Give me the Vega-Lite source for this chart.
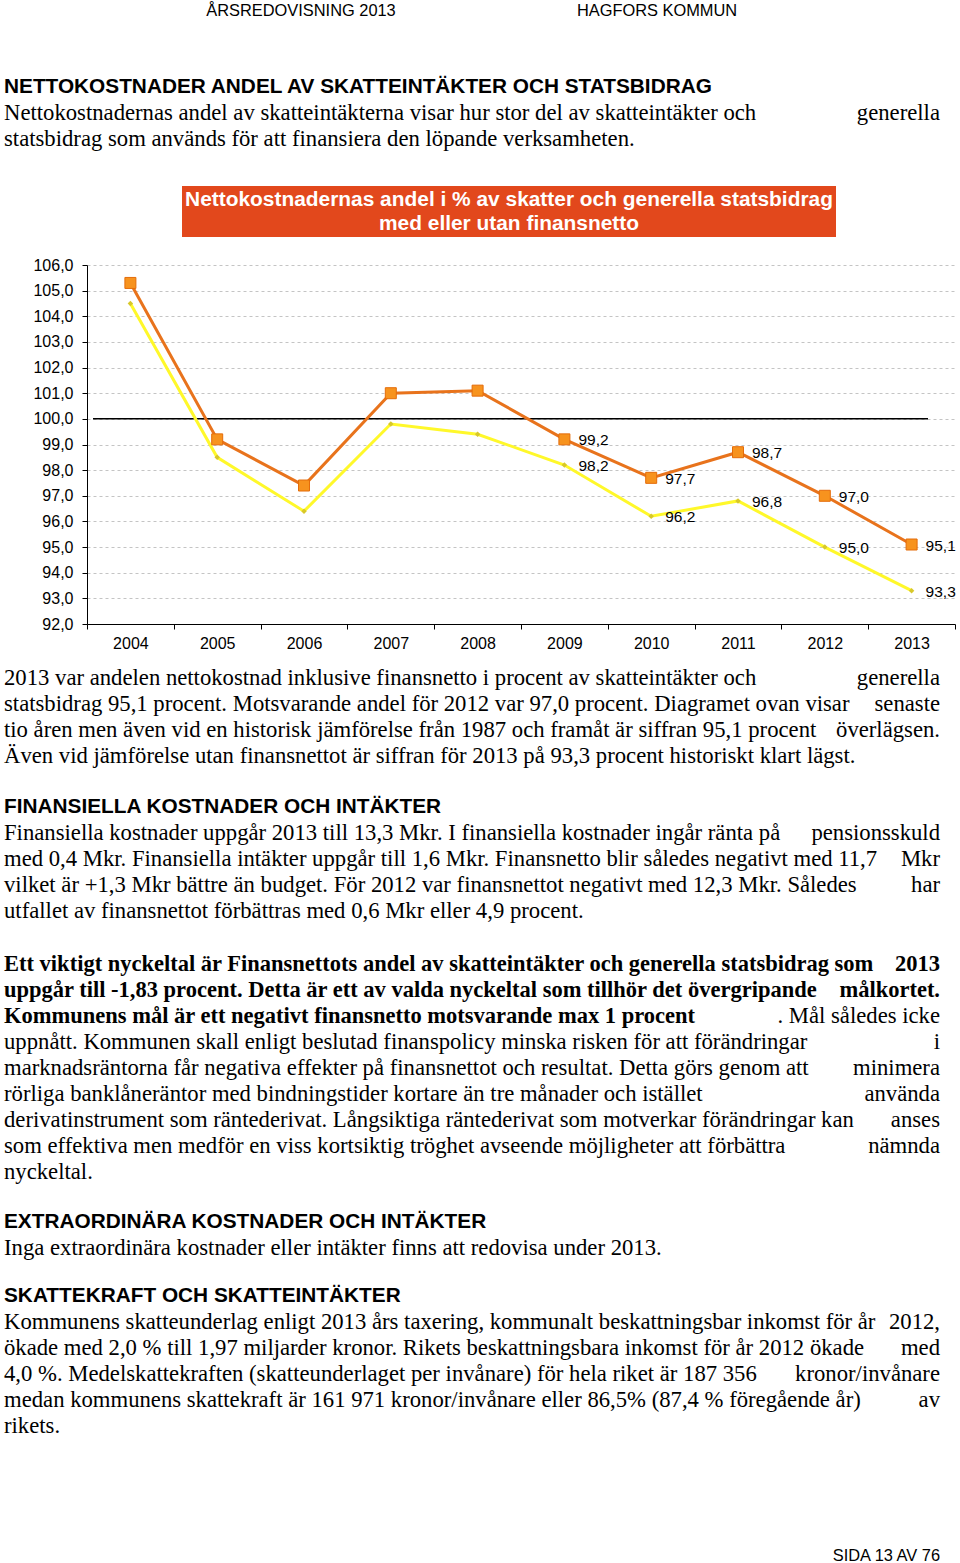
{
  "$schema": "https://vega.github.io/schema/vega-lite/v6.json",
  "padding": 0,
  "spacing": 0,
  "background": "white",
  "config": {
    "view": {"stroke": null},
    "locale": {"number": {"decimal": ",", "thousands": " ", "grouping": [3], "currency": ["", " kr"]}}
  },
  "vconcat": [
    {
      "width": 960,
      "height": 257,
      "data": {"values": [
        {"line": 0.08, "kind": "hl", "text": "ÅRSREDOVISNING 2013"},
        {"line": 0.08, "kind": "hr", "text": "HAGFORS KOMMUN"},
        {"line": 3, "kind": "h", "text": "NETTOKOSTNADER ANDEL AV SKATTEINTÄKTER OCH STATSBIDRAG"},
        {"line": 4, "kind": "b", "text": "Nettokostnadernas andel av skatteintäkterna visar hur stor del av skatteintäkter och", "end": "generella"},
        {"line": 5, "kind": "b", "text": "statsbidrag som används för att finansiera den löpande verksamheten."},
        {"line": 6.808, "line2": 8.769, "kind": "box"},
        {"line": 7.346, "kind": "t", "text": "Nettokostnadernas andel i % av skatter och generella statsbidrag"},
        {"line": 8.269, "kind": "t", "text": "med eller utan finansnetto"}
      ]},
      "encoding": {
        "y": {"field": "line", "type": "quantitative", "scale": {"domain": [-0.346, 9.538], "reverse": true, "nice": false, "zero": false}, "axis": null}
      },
      "layer": [
        {"transform": [{"filter": "datum.kind == 'hl'"}], "mark": {"type": "text", "x": 214, "align": "center", "baseline": "middle", "font": "Liberation Sans", "fontSize": 16.4, "color": "black"}, "encoding": {"text": {"field": "text"}}},
        {"transform": [{"filter": "datum.kind == 'hr'"}], "mark": {"type": "text", "x": 570, "align": "center", "baseline": "middle", "font": "Liberation Sans", "fontSize": 16.4, "color": "black"}, "encoding": {"text": {"field": "text"}}},
        {"transform": [{"filter": "datum.kind == 'h'"}], "mark": {"type": "text", "x": -83, "align": "left", "baseline": "middle", "font": "Liberation Sans", "fontWeight": "bold", "fontSize": 20.8, "color": "black"}, "encoding": {"text": {"field": "text"}}},
        {"transform": [{"filter": "datum.kind == 'b'"}], "mark": {"type": "text", "x": -83, "align": "left", "baseline": "middle", "font": "Liberation Serif", "fontSize": 22.7, "color": "black"}, "encoding": {"text": {"field": "text"}}},
        {"transform": [{"filter": "datum.kind == 'b' && datum.end"}], "mark": {"type": "text", "x": 853, "align": "right", "baseline": "middle", "font": "Liberation Serif", "fontSize": 22.7, "color": "black"}, "encoding": {"text": {"field": "end"}}},
        {"transform": [{"filter": "datum.kind == 'box'"}], "mark": {"type": "rect", "x": 95, "x2": 749, "color": "#E2481C"}, "encoding": {"y2": {"field": "line2"}}},
        {"transform": [{"filter": "datum.kind == 't'"}], "mark": {"type": "text", "x": 422, "align": "center", "baseline": "middle", "font": "Liberation Sans", "fontWeight": "bold", "fontSize": 20.9, "color": "white"}, "encoding": {"text": {"field": "text"}}}
      ]
    },
    {
      "width": 868,
      "height": 359,
      "data": {"values": [
        {"year": "2004", "series": "med", "value": 105.3},
        {"year": "2005", "series": "med", "value": 99.2},
        {"year": "2006", "series": "med", "value": 97.4},
        {"year": "2007", "series": "med", "value": 101.0},
        {"year": "2008", "series": "med", "value": 101.1},
        {"year": "2009", "series": "med", "value": 99.2},
        {"year": "2010", "series": "med", "value": 97.7},
        {"year": "2011", "series": "med", "value": 98.7},
        {"year": "2012", "series": "med", "value": 97.0},
        {"year": "2013", "series": "med", "value": 95.1},
        {"year": "2004", "series": "utan", "value": 104.5},
        {"year": "2005", "series": "utan", "value": 98.5},
        {"year": "2006", "series": "utan", "value": 96.4},
        {"year": "2007", "series": "utan", "value": 99.8},
        {"year": "2008", "series": "utan", "value": 99.4},
        {"year": "2009", "series": "utan", "value": 98.2},
        {"year": "2010", "series": "utan", "value": 96.2},
        {"year": "2011", "series": "utan", "value": 96.8},
        {"year": "2012", "series": "utan", "value": 95.0},
        {"year": "2013", "series": "utan", "value": 93.3}
      ]},
      "encoding": {
        "y": {"field": "value", "type": "quantitative",
          "scale": {"domain": [92, 106], "nice": false, "zero": false},
          "axis": {"title": null, "values": [92, 93, 94, 95, 96, 97, 98, 99, 100, 101, 102, 103, 104, 105, 106], "format": ".1f",
            "grid": true, "gridDash": [3, 3], "gridColor": "#C4C4C4", "gridWidth": 1,
            "domainColor": "black", "domainWidth": 1, "tickColor": "black", "tickSize": 5, "labelPadding": 9,
            "labelFont": "Liberation Sans", "labelFontSize": 16, "labelColor": "black", "minExtent": 87}}
      },
      "layer": [
        {
          "data": {"values": [{"a": "2004", "b": "2013", "v": 100}]},
          "mark": {"type": "rule", "color": "black", "strokeWidth": 1.5, "xOffset": -37.4, "x2Offset": 16.4},
          "encoding": {
            "x": {"field": "a", "type": "ordinal", "bandPosition": 0.5,
              "scale": {"type": "band", "paddingInner": 0, "paddingOuter": 0, "domain": ["2004", "2005", "2006", "2007", "2008", "2009", "2010", "2011", "2012", "2013"]},
              "axis": {"title": null, "labelAngle": 0, "tickBand": "extent", "domainColor": "black", "tickColor": "black", "tickSize": 5, "labelPadding": 6,
                "labelFont": "Liberation Sans", "labelFontSize": 16, "labelColor": "black", "grid": false}},
            "x2": {"field": "b"},
            "y": {"field": "v", "type": "quantitative"}
          }
        },
        {
          "transform": [{"filter": "datum.series == 'med'"}],
          "mark": {"type": "line", "color": "#E8731C", "strokeWidth": 3},
          "encoding": {"x": {"field": "year", "type": "ordinal", "bandPosition": 0.5}}
        },
        {
          "transform": [{"filter": "datum.series == 'utan'"}],
          "mark": {"type": "line", "color": "#FFF82A", "strokeWidth": 3},
          "encoding": {"x": {"field": "year", "type": "ordinal", "bandPosition": 0.5}}
        },
        {
          "transform": [{"filter": "datum.series == 'med'"}],
          "mark": {"type": "point", "shape": "square", "size": 121, "filled": true, "fill": "#F7931E", "stroke": "#E46C0A", "strokeWidth": 1, "opacity": 1},
          "encoding": {"x": {"field": "year", "type": "ordinal", "bandPosition": 0.5}}
        },
        {
          "transform": [{"filter": "datum.series == 'utan'"}],
          "mark": {"type": "point", "shape": "diamond", "size": 30, "filled": true, "color": "#D8C82A", "opacity": 1},
          "encoding": {"x": {"field": "year", "type": "ordinal", "bandPosition": 0.5}}
        },
        {
          "transform": [{"filter": "toNumber(datum.year) >= 2009"}],
          "mark": {"type": "text", "align": "left", "baseline": "middle", "dx": 14, "dy": 1, "font": "Liberation Sans", "fontSize": 15.5, "color": "black"},
          "encoding": {"x": {"field": "year", "type": "ordinal", "bandPosition": 0.5}, "text": {"field": "value", "type": "quantitative", "format": ".1f"}}
        }
      ]
    },
    {
      "width": 960,
      "height": 912,
      "data": {"values": [
        {"line": 0, "kind": "b", "text": "2013 var andelen nettokostnad inklusive finansnetto i procent av skatteintäkter och", "end": "generella"},
        {"line": 1, "kind": "b", "text": "statsbidrag 95,1 procent. Motsvarande andel för 2012 var 97,0 procent. Diagramet ovan visar", "end": "senaste"},
        {"line": 2, "kind": "b", "text": "tio åren men även vid en historisk jämförelse från 1987 och framåt är siffran 95,1 procent", "end": "överlägsen."},
        {"line": 3, "kind": "b", "text": "Även vid jämförelse utan finansnettot är siffran för 2013 på 93,3 procent historiskt klart lägst."},
        {"line": 4.96, "kind": "h", "text": "FINANSIELLA KOSTNADER OCH INTÄKTER"},
        {"line": 5.96, "kind": "b", "text": "Finansiella kostnader uppgår 2013 till 13,3 Mkr. I finansiella kostnader ingår ränta på", "end": "pensionsskuld"},
        {"line": 6.96, "kind": "b", "text": "med 0,4 Mkr. Finansiella intäkter uppgår till 1,6 Mkr. Finansnetto blir således negativt med 11,7", "end": "Mkr"},
        {"line": 7.96, "kind": "b", "text": "vilket är +1,3 Mkr bättre än budget. För 2012 var finansnettot negativt med 12,3 Mkr. Således", "end": "har"},
        {"line": 8.96, "kind": "b", "text": "utfallet av finansnettot förbättras med 0,6 Mkr eller 4,9 procent."},
        {"line": 11, "kind": "bb", "text": "Ett viktigt nyckeltal är Finansnettots andel av skatteintäkter och generella statsbidrag som", "endB": "2013"},
        {"line": 12, "kind": "bb", "text": "uppgår till -1,83 procent. Detta är ett av valda nyckeltal som tillhör det övergripande", "endB": "målkortet."},
        {"line": 13, "kind": "bb", "text": "Kommunens mål är ett negativt finansnetto motsvarande max 1 procent", "end": ". Mål således icke"},
        {"line": 14, "kind": "b", "text": "uppnått. Kommunen skall enligt beslutad finanspolicy minska risken för att förändringar", "end": "i"},
        {"line": 15, "kind": "b", "text": "marknadsräntorna får negativa effekter på finansnettot och resultat. Detta görs genom att", "end": "minimera"},
        {"line": 16, "kind": "b", "text": "rörliga banklåneräntor med bindningstider kortare än tre månader och istället", "end": "använda"},
        {"line": 17, "kind": "b", "text": "derivatinstrument som räntederivat. Långsiktiga räntederivat som motverkar förändringar kan", "end": "anses"},
        {"line": 18, "kind": "b", "text": "som effektiva men medför en viss kortsiktig tröghet avseende möjligheter att förbättra", "end": "nämnda"},
        {"line": 19, "kind": "b", "text": "nyckeltal."},
        {"line": 20.92, "kind": "h", "text": "EXTRAORDINÄRA KOSTNADER OCH INTÄKTER"},
        {"line": 21.92, "kind": "b", "text": "Inga extraordinära kostnader eller intäkter finns att redovisa under 2013."},
        {"line": 23.77, "kind": "h", "text": "SKATTEKRAFT OCH SKATTEINTÄKTER"},
        {"line": 24.77, "kind": "b", "text": "Kommunens skatteunderlag enligt 2013 års taxering, kommunalt beskattningsbar inkomst för år", "end": "2012,"},
        {"line": 25.77, "kind": "b", "text": "ökade med 2,0 % till 1,97 miljarder kronor. Rikets beskattningsbara inkomst för år 2012 ökade", "end": "med"},
        {"line": 26.77, "kind": "b", "text": "4,0 %. Medelskattekraften (skatteunderlaget per invånare) för hela riket är 187 356", "end": "kronor/invånare"},
        {"line": 27.77, "kind": "b", "text": "medan kommunens skattekraft är 161 971 kronor/invånare eller 86,5% (87,4 % föregående år)", "end": "av"},
        {"line": 28.77, "kind": "b", "text": "rikets."},
        {"line": 33.77, "kind": "f", "text": "SIDA 13 AV 76"}
      ]},
      "encoding": {
        "y": {"field": "line", "type": "quantitative", "scale": {"domain": [-1.0385, 34.04], "reverse": true, "nice": false, "zero": false}, "axis": null}
      },
      "layer": [
        {"transform": [{"filter": "datum.kind == 'b'"}], "mark": {"type": "text", "x": -83, "align": "left", "baseline": "middle", "font": "Liberation Serif", "fontSize": 22.7, "color": "black"}, "encoding": {"text": {"field": "text"}}},
        {"transform": [{"filter": "datum.kind == 'bb'"}], "mark": {"type": "text", "x": -83, "align": "left", "baseline": "middle", "font": "Liberation Serif", "fontWeight": "bold", "fontSize": 22.5, "color": "black"}, "encoding": {"text": {"field": "text"}}},
        {"transform": [{"filter": "datum.end"}], "mark": {"type": "text", "x": 853, "align": "right", "baseline": "middle", "font": "Liberation Serif", "fontSize": 22.7, "color": "black"}, "encoding": {"text": {"field": "end"}}},
        {"transform": [{"filter": "datum.endB"}], "mark": {"type": "text", "x": 853, "align": "right", "baseline": "middle", "font": "Liberation Serif", "fontWeight": "bold", "fontSize": 22.5, "color": "black"}, "encoding": {"text": {"field": "endB"}}},
        {"transform": [{"filter": "datum.kind == 'h'"}], "mark": {"type": "text", "x": -83, "align": "left", "baseline": "middle", "font": "Liberation Sans", "fontWeight": "bold", "fontSize": 20.8, "color": "black"}, "encoding": {"text": {"field": "text"}}},
        {"transform": [{"filter": "datum.kind == 'f'"}], "mark": {"type": "text", "x": 853, "align": "right", "baseline": "middle", "font": "Liberation Sans", "fontSize": 16.4, "color": "black"}, "encoding": {"text": {"field": "text"}}}
      ]
    }
  ]
}
